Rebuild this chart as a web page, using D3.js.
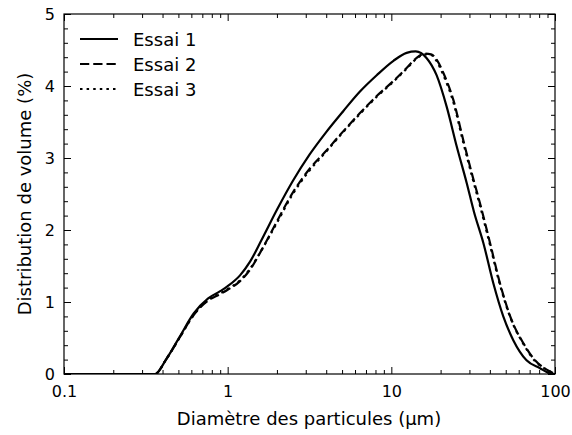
<!DOCTYPE html>
<html><head><meta charset="utf-8">
<script src="https://cdn.jsdelivr.net/npm/d3@7"></script>
<style>body{margin:0;background:#fff}svg{display:block}text{font-family:"DejaVu Sans",sans-serif;fill:#000}</style>
</head><body><svg id="c" width="572" height="435"></svg>
<script>
const seriesNames = ["Essai 1", "Essai 2", "Essai 3"];
const x1 = [0.1,0.36,0.42,0.51,0.62,0.76,0.9,1.0,1.19,1.37,1.61,2.0,2.5,3.17,4.0,5.08,6.41,8.14,10.3,12.4,14.1,16.4,18.9,21.8,25.1,28.9,32,36.5,42,48.3,55.6,67,81,93,100];
const y1 = [0,0,0.2,0.52,0.84,1.05,1.15,1.22,1.37,1.56,1.86,2.28,2.68,3.05,3.36,3.65,3.92,4.15,4.35,4.46,4.48,4.39,4.15,3.71,3.16,2.65,2.25,1.82,1.26,0.80,0.47,0.19,0.08,0.01,0];
const x2 = [0.1,0.36,0.42,0.51,0.62,0.76,0.9,1.0,1.19,1.37,1.61,2.0,2.5,3.17,4.0,5.08,6.41,8.14,10.3,12.4,14.1,16,17.5,19,20.8,23.9,27.5,31,35,40.1,46.1,54.3,64,75.5,89,100];
const y2 = [0,0,0.2,0.51,0.82,1.02,1.11,1.17,1.29,1.45,1.72,2.12,2.52,2.85,3.10,3.37,3.62,3.86,4.07,4.25,4.38,4.45,4.44,4.36,4.18,3.81,3.25,2.79,2.35,1.82,1.26,0.75,0.43,0.19,0.06,0];
const x3 = [0.1,0.36,0.42,0.51,0.62,0.76,0.9,1.0,1.19,1.37,1.61,2.0,2.5,3.17,4.0,5.08,6.41,8.14,10.3,12.4,14.1,16,17.5,19,20.8,23.9,27.5,31,35,40.1,46.1,54.3,64,75.5,89,100];
const y3 = [0,0,0.2,0.51,0.82,1.03,1.12,1.18,1.30,1.46,1.72,2.10,2.50,2.83,3.09,3.36,3.61,3.85,4.06,4.24,4.37,4.44,4.43,4.34,4.15,3.78,3.22,2.76,2.32,1.79,1.24,0.74,0.42,0.18,0.06,0];
const xTicks = [0.1, 1, 10, 100];
const xTickLabels = ["0.1", "1", "10", "100"];
const yTicks = [0, 1, 2, 3, 4, 5];

const svg = d3.select("#c");
const L = 64, R = 555, T = 14, B = 374;
const x = d3.scaleLog().domain([0.1, 100]).range([L, R]);
const y = d3.scaleLinear().domain([0, 5]).range([B, T]);

const series = [
  {name: seriesNames[0], xs: x1, ys: y1, dash: null},
  {name: seriesNames[1], xs: x2, ys: y2, dash: "9.25,4"},
  {name: seriesNames[2], xs: x3, ys: y3, dash: "2.5,4.1"}
];
const LW = 2.2;

const line = d3.line().x(d => x(d[0])).y(d => y(d[1])).curve(d3.curveMonotoneX);
const g = svg.append("g");
g.append("defs").append("clipPath").attr("id","clip").append("rect")
  .attr("x", L).attr("y", T).attr("width", R-L).attr("height", B-T);
series.forEach(s => {
  g.append("path").attr("clip-path","url(#clip)")
    .attr("d", line(s.xs.map((v,i)=>[v, s.ys[i]])))
    .attr("fill","none").attr("stroke","#000").attr("stroke-width",LW)
    .attr("stroke-dasharray", s.dash);
});

const xMinor = [];
[0.1,1,10].forEach(d => { for (let k=2;k<=9;k++) xMinor.push(d*k); });
const yMinor = d3.range(0, 5.001, 0.2).filter(v => Math.abs(v - Math.round(v)) > 1e-6);

const axB = d3.axisBottom(x).tickValues(xTicks).tickFormat((d,i)=>xTickLabels[i]).tickSizeInner(-7).tickSizeOuter(0).tickPadding(12);
const axT = d3.axisTop(x).tickValues(xTicks).tickFormat("").tickSizeInner(-7).tickSizeOuter(0);
const axL = d3.axisLeft(y).tickValues(yTicks).tickFormat(d3.format("d")).tickSizeInner(-7).tickSizeOuter(0).tickPadding(9);
const axR = d3.axisRight(y).tickValues(yTicks).tickFormat("").tickSizeInner(-7).tickSizeOuter(0);
const mB = d3.axisBottom(x).tickValues(xMinor).tickFormat("").tickSizeInner(-4).tickSizeOuter(0);
const mT = d3.axisTop(x).tickValues(xMinor).tickFormat("").tickSizeInner(-4).tickSizeOuter(0);
const mL = d3.axisLeft(y).tickValues(yMinor).tickFormat("").tickSizeInner(-4).tickSizeOuter(0);
const mR = d3.axisRight(y).tickValues(yMinor).tickFormat("").tickSizeInner(-4).tickSizeOuter(0);

function put(ax, tx, ty) {
  const a = svg.append("g").attr("transform", `translate(${tx},${ty})`).call(ax);
  a.selectAll("path.domain").remove();
  a.selectAll("line").attr("stroke","#000").attr("stroke-width",1);
  a.selectAll("text").attr("font-size",16).attr("font-family","DejaVu Sans").attr("fill","#000");
  return a;
}
put(axB, 0, B); put(axT, 0, T); put(axL, L, 0); put(axR, R, 0);
put(mB, 0, B); put(mT, 0, T); put(mL, L, 0); put(mR, R, 0);

svg.append("rect").attr("x", L).attr("y", T).attr("width", R-L).attr("height", B-T)
  .attr("fill","none").attr("stroke","#000").attr("stroke-width",1.2);

svg.append("text").attr("x", 309).attr("y", 425).attr("text-anchor","middle")
  .attr("font-size",18).text("Diamètre des particules (µm)");
svg.append("text").attr("transform", `translate(31,${(T+B)/2}) rotate(-90)`).attr("text-anchor","middle")
  .attr("font-size",18).text("Distribution de volume (%)");

const leg = svg.append("g");
series.forEach((s,i) => {
  const yy = 39 + i*25;
  leg.append("line").attr("x1",80).attr("x2",118).attr("y1",yy).attr("y2",yy)
    .attr("stroke","#000").attr("stroke-width",LW).attr("stroke-dasharray", s.dash);
  leg.append("text").attr("x",133).attr("y",yy+6.5).attr("font-size",18).text(s.name);
});
</script></body></html>
